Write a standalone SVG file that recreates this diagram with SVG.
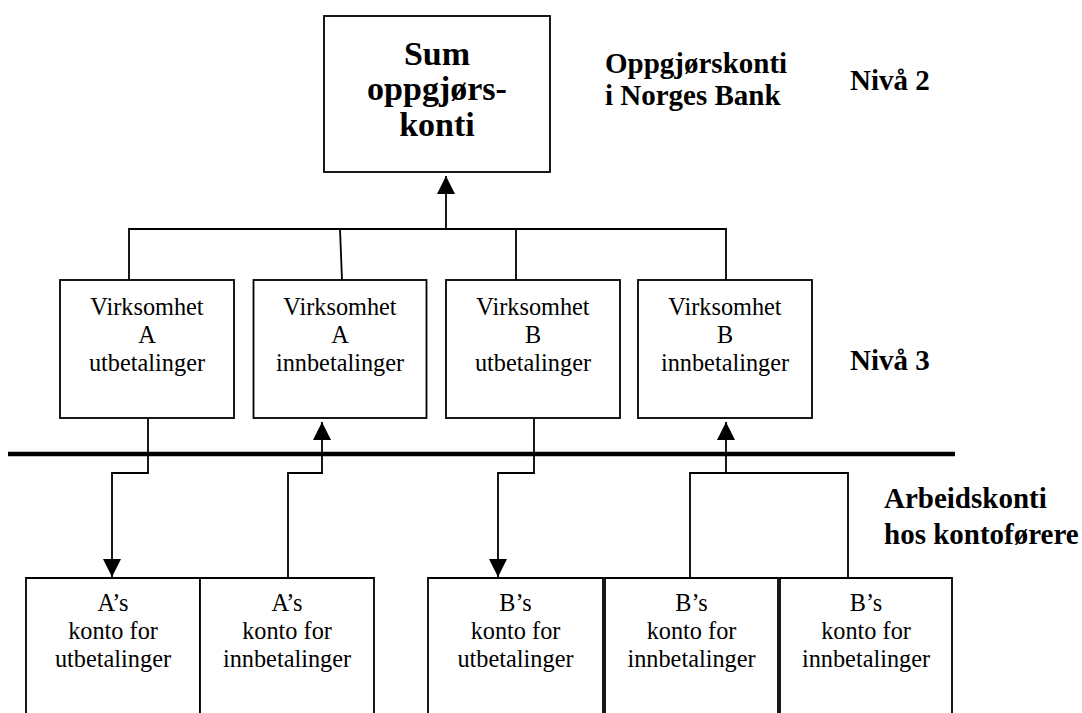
<svg xmlns="http://www.w3.org/2000/svg" width="1082" height="713" viewBox="0 0 1082 713">
<style>
.box{fill:#fff;stroke:#000;stroke-width:1.8}
.ln{fill:none;stroke:#000;stroke-width:1.8}
.t{font-family:'Liberation Serif','Tinos','Times New Roman','Noto Serif','DejaVu Serif',serif;font-size:24.3px;text-anchor:middle;fill:#000}
.b{font-family:'Liberation Serif','Tinos','Times New Roman','Noto Serif','DejaVu Serif',serif;font-size:29px;font-weight:bold;fill:#000}
.bt{font-family:'Liberation Serif','Tinos','Times New Roman','Noto Serif','DejaVu Serif',serif;font-size:34px;font-weight:bold;text-anchor:middle;fill:#000}
</style>
<defs>
<marker id="ah" markerUnits="userSpaceOnUse" markerWidth="18" markerHeight="18" refX="18" refY="9" orient="auto" viewBox="0 0 18 18">
<path d="M0,0 L18,9 L0,18 z" fill="#000"/>
</marker>
</defs>
<rect width="1082" height="713" fill="#fff"/>

<g id="connectors">
<path class="ln" d="M129,280 V229 H726 V280"/>
<path class="ln" d="M340,229 L342,280"/>
<path class="ln" d="M516,229 V280"/>
<path class="ln" d="M446,229 V176" marker-end="url(#ah)"/>
<path class="ln" d="M148,418 V473 H112 V577" marker-end="url(#ah)"/>
<path class="ln" d="M288,578 V473 H322 V422" marker-end="url(#ah)"/>
<path class="ln" d="M534,418 V473 H498 V577" marker-end="url(#ah)"/>
<path class="ln" d="M690,578 V473 H848 V578"/>
<path class="ln" d="M726,473 V422" marker-end="url(#ah)"/>
</g>

<g id="divider">
<line x1="8" y1="454" x2="955" y2="454" stroke="#000" stroke-width="4.6"/>
</g>

<g id="sum">
<rect class="box" x="324" y="16" width="226" height="156"/>
<text class="bt" x="437" y="65">Sum</text>
<text class="bt" x="437" y="100">oppgjørs-</text>
<text class="bt" x="437" y="136">konti</text>
</g>

<g id="label-niva2">
<text class="b" x="605" y="73">Oppgjørskonti</text>
<text class="b" x="605" y="105">i Norges Bank</text>
<text class="b" x="850" y="90">Nivå 2</text>
</g>

<g id="va-utb">
<rect class="box" x="60" y="280" width="174" height="138"/>
<text class="t" x="147" y="315">Virksomhet</text>
<text class="t" x="147" y="343">A</text>
<text class="t" x="147" y="371">utbetalinger</text>
</g>
<g id="va-innb">
<rect class="box" x="253.5" y="280" width="173" height="138"/>
<text class="t" x="340" y="315">Virksomhet</text>
<text class="t" x="340" y="343">A</text>
<text class="t" x="340" y="371">innbetalinger</text>
</g>
<g id="vb-utb">
<rect class="box" x="446" y="280" width="174" height="138"/>
<text class="t" x="533" y="315">Virksomhet</text>
<text class="t" x="533" y="343">B</text>
<text class="t" x="533" y="371">utbetalinger</text>
</g>
<g id="vb-innb">
<rect class="box" x="638" y="280" width="174" height="138"/>
<text class="t" x="725" y="315">Virksomhet</text>
<text class="t" x="725" y="343">B</text>
<text class="t" x="725" y="371">innbetalinger</text>
</g>

<g id="label-niva3">
<text class="b" x="850" y="370">Nivå 3</text>
</g>

<g id="label-arbeid">
<text class="b" x="884" y="508">Arbeidskonti</text>
<text class="b" x="884" y="544">hos kontoførere</text>
</g>

<g id="a-utb">
<path class="box" d="M26,720 V578 H200 V720"/>
<text class="t" x="113" y="611">A’s</text>
<text class="t" x="113" y="639">konto for</text>
<text class="t" x="113" y="667">utbetalinger</text>
</g>
<g id="a-innb">
<path class="box" d="M200,720 V578 H374 V720"/>
<text class="t" x="287" y="611">A’s</text>
<text class="t" x="287" y="639">konto for</text>
<text class="t" x="287" y="667">innbetalinger</text>
</g>
<g id="b-utb">
<path class="box" d="M428,720 V578 H603 V720"/>
<text class="t" x="515.5" y="611">B’s</text>
<text class="t" x="515.5" y="639">konto for</text>
<text class="t" x="515.5" y="667">utbetalinger</text>
</g>
<g id="b-innb1">
<path class="box" d="M605,720 V578 H778 V720"/>
<text class="t" x="691.5" y="611">B’s</text>
<text class="t" x="691.5" y="639">konto for</text>
<text class="t" x="691.5" y="667">innbetalinger</text>
</g>
<g id="b-innb2">
<path class="box" d="M780,720 V578 H952 V720"/>
<text class="t" x="866" y="611">B’s</text>
<text class="t" x="866" y="639">konto for</text>
<text class="t" x="866" y="667">innbetalinger</text>
</g>
</svg>
